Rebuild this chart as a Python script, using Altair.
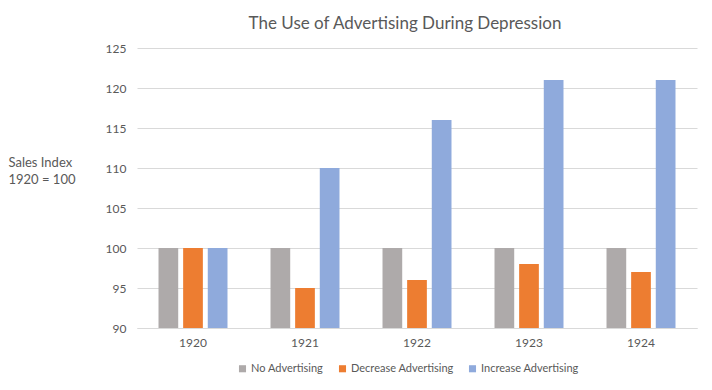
import altair as alt
import pandas as pd

years = ["1920", "1921", "1922", "1923", "1924"]
series = ["No Advertising", "Decrease Advertising", "Increase Advertising"]
no_adv = [100, 100, 100, 100, 100]
decrease_adv = [100, 95, 96, 98, 97]
increase_adv = [100, 110, 116, 121, 121]
colors = ["#AEAAAA", "#ED7D31", "#8FAADC"]

rows = []
for s, vals in zip(series, [no_adv, decrease_adv, increase_adv]):
    for y, v in zip(years, vals):
        rows.append({"Year": y, "Series": s, "Value": v})
df = pd.DataFrame(rows)

FONT = "Lato"
GREY = "#595959"

chart = alt.Chart(df).mark_bar(clip=True).encode(
    x=alt.X("Year:N", sort=years,
            scale=alt.Scale(paddingInner=0.384, paddingOuter=0.192),
            axis=alt.Axis(title=None, labelAngle=0, ticks=False, domain=True,
                          domainColor="#D9D9D9", labelColor=GREY, labelFont=FONT,
                          labelFontSize=12, labelPadding=9)),
    xOffset=alt.XOffset("Series:N", sort=series,
                        scale=alt.Scale(paddingInner=0.2, paddingOuter=0)),
    y=alt.Y("Value:Q",
            scale=alt.Scale(domain=[90, 125], zero=False, nice=False),
            axis=alt.Axis(values=[90, 95, 100, 105, 110, 115, 120, 125],
                          title=["Sales Index", "1920 = 100"], titleAngle=0,
                          titleAlign="left", titleBaseline="top",
                          titleX=-129, titleY=108, titleFont=FONT,
                          titleFontSize=13, titleFontWeight="normal",
                          titleColor=GREY, titleLineHeight=17,
                          ticks=False, domain=False, grid=True,
                          gridColor="#D9D9D9", gridWidth=1,
                          labelColor=GREY, labelFont=FONT, labelFontSize=12,
                          labelPadding=11)),
    color=alt.Color("Series:N", sort=series,
                    scale=alt.Scale(domain=series, range=colors),
                    legend=alt.Legend(title=None, orient="none", direction="horizontal",
                                      legendX=100, legendY=315,
                                      symbolType="square", symbolSize=50,
                                      symbolStrokeWidth=0,
                                      labelFont=FONT, labelFontSize=11,
                                      labelColor=GREY, columnPadding=13,
                                      labelOffset=3)),
).properties(
    width=560, height=280,
    autosize=alt.AutoSizeParams(type="none"),
    padding={"left": 129, "top": 40, "right": 7, "bottom": 54},
    title=alt.TitleParams("The Use of Advertising During Depression",
                          font=FONT, fontSize=17, fontWeight="normal",
                          color=GREY, anchor="middle", offset=9, dx=-12),
).configure_view(stroke=None)

chart.save("out.html", embed_options={"renderer": "svg", "actions": False})
